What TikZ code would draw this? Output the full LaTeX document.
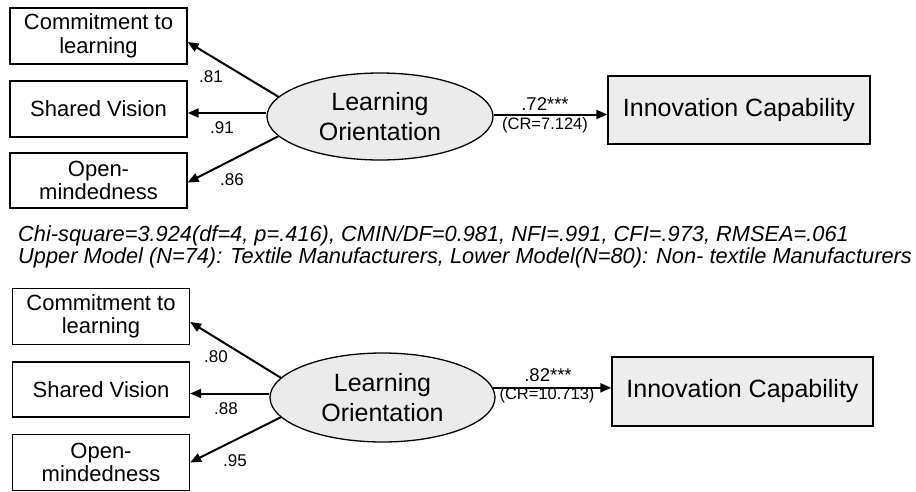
\documentclass[tikz,border=0pt]{standalone}
\usepackage{fontspec}
\setmainfont{Liberation Sans}
\usetikzlibrary{shapes.geometric,arrows.meta}
\definecolor{latentfill}{HTML}{EBEBEB}
\definecolor{outfill}{HTML}{EDEDED}
\tikzset{
  indicator/.style={draw, line width=1.3pt, minimum width=177pt, minimum height=56pt,
    inner sep=0pt, align=center, font=\fontsize{22}{23.5}\selectfont},
  latent/.style={draw, ellipse, fill=latentfill, line width=1.3pt, minimum width=225pt,
    minimum height=88pt, inner sep=0pt, align=center, font=\fontsize{25}{30}\selectfont},
  outcome/.style={draw, fill=outfill, line width=1.3pt, minimum width=262pt, minimum height=68pt,
    inner sep=0pt, font=\fontsize{25}{30}\selectfont},
  path/.style={line width=2pt, -{Triangle[length=11pt,width=9pt]}},
  coef/.style={inner sep=0pt, font=\fontsize{17}{19}\selectfont},
  effect/.style={inner sep=0pt, font=\fontsize{18.5}{20}\selectfont},
  crval/.style={inner sep=0pt, font=\fontsize{16.5}{18}\selectfont},
  fitline/.style={inner sep=0pt, anchor=base west, text height=15pt, text depth=3pt,
    font=\fontsize{21.8}{24}\selectfont\itshape}
}
\begin{document}
\begin{tikzpicture}[x=1pt, y=-1pt]
\useasboundingbox (0,0) rectangle (916,492);

% ---- upper model: textile manufacturers ----
\node[indicator] (c1) at (98.5,36) {Commitment to\\learning};
\node[indicator] (sv) at (98.5,109) {Shared Vision};
\node[indicator, minimum height=55pt] (om) at (98.5,180.5) {Open-\\mindedness};
\node[latent, minimum width=226pt, minimum height=87pt] (lo) at (380,116.5) {Learning\\Orientation};
\node[outcome] (ic) at (739,110) {Innovation Capability};

\draw[path] (lo.169) -- ([yshift=-6pt]c1.east);
\draw[path] ([yshift=3.5pt]lo.west) -- ([yshift=3.5pt]lo.west -| sv.east);
\draw[path] (lo.191) -- ([yshift=-2pt]om.east);
\draw[path] (lo.1.5) -- (lo.1.5 -| ic.west);

\node[coef] (l1) at (211,77) {.81};
\node[coef] (l2) at (222,128) {.91};
\node[coef] (l3) at (232,180) {.86};
\node[effect] (e1) at (545,104) {.72***};
\node[crval] (r1) at (545,125) {(CR=7.124)};

% ---- fit statistics and group legend ----
\node[fitline] (fit) at (18,241.5) {Chi-square=3.924(df=4, p=.416), CMIN/DF=0.981, NFI=.991, CFI=.973, RMSEA=.061};
\node[fitline] (grp) at (18,263) {Upper Model (N=74): Textile Manufacturers, Lower Model(N=80): Non- textile Manufacturers};

% ---- lower model: non-textile manufacturers ----
\node[indicator] (c1b) at (101,316.5) {Commitment to\\learning};
\node[indicator, minimum height=55pt] (svb) at (101,389.5) {Shared Vision};
\node[indicator] (omb) at (101,462.5) {Open-\\mindedness};
\node[latent, minimum height=89pt] (lob) at (382.5,397.5) {Learning\\Orientation};
\node[outcome, minimum width=261pt, minimum height=69pt] (icb) at (742.5,391.5) {Innovation Capability};

\draw[path] (lob.169) -- ([yshift=-5.5pt]c1b.east);
\draw[path] ([yshift=4pt]lob.west) -- ([yshift=4pt]lob.west -| svb.east);
\draw[path] (lob.191.5) -- (omb.east);
\draw[path] (lob.5.5) -- (lob.5.5 -| icb.west);

\node[coef] (l4) at (216,357) {.80};
\node[coef] (l5) at (226,409) {.88};
\node[coef] (l6) at (235,461) {.95};
\node[effect] (e2) at (548,375) {.82***};
\node[crval] (r2) at (547,395) {(CR=10.713)};
\end{tikzpicture}
\end{document}
